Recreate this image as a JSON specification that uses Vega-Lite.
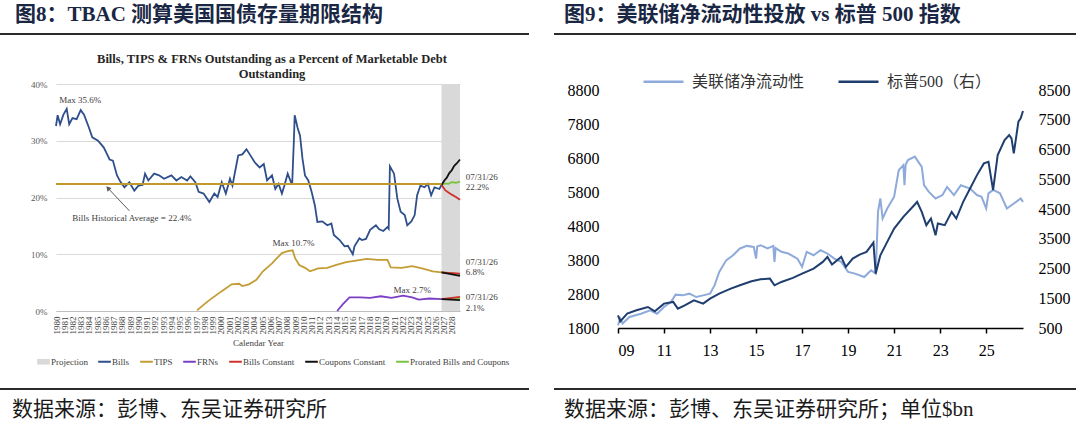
{
  "$schema": "https://vega.github.io/schema/vega-lite/v6.json",
  "background": "white",
  "padding": {"left": 0, "top": 4, "right": 0, "bottom": 0},
  "config": {
    "font": "Liberation Serif",
    "view": {"stroke": null},
    "axis": {"labelFont": "Liberation Serif", "titleFont": "Liberation Serif"},
    "axisX": {"labelOverlap": false},
    "legend": {"layout": {"top": {"anchor": "middle"}, "bottom": {"anchor": "middle"}}}
  },
  "resolve": {
    "scale": {"x": "independent", "y": "independent", "color": "independent"},
    "axis": {"x": "independent", "y": "independent"},
    "legend": {"color": "independent"}
  },
  "datasets": {
    "proj": [{"from": 2026.76, "to": 2029}],
    "avg": [{"from": 1980, "to": 2026.76, "pct": 22.4}],
    "arrow": [{"x": 1988.9, "y": 17.65, "x2": 1986.3, "y2": 21.65}],
    "notes_l": [
      {"yr": 1980.4, "pct": 37.2, "t": "Max 35.6%"},
      {"yr": 2029.7, "pct": 23.65, "t": "07/31/26"},
      {"yr": 2029.7, "pct": 21.8, "t": "22.2%"},
      {"yr": 2029.7, "pct": 8.65, "t": "07/31/26"},
      {"yr": 2029.7, "pct": 6.9, "t": "6.8%"},
      {"yr": 2029.7, "pct": 2.5, "t": "07/31/26"},
      {"yr": 2029.7, "pct": 0.6, "t": "2.1%"}
    ],
    "notes_c": [
      {"yr": 1989.2, "pct": 16.4, "t": "Bills Historical Average = 22.4%"},
      {"yr": 2008.8, "pct": 11.95, "t": "Max 10.7%"},
      {"yr": 2023.2, "pct": 3.7, "t": "Max 2.7%"}
    ],
    "debt": [
      {"yr": 1980.0, "pct": 32.6, "s": "Bills", "k": "Bills"},
      {"yr": 1980.2, "pct": 34.5, "s": "Bills", "k": "Bills"},
      {"yr": 1980.5, "pct": 32.9, "s": "Bills", "k": "Bills"},
      {"yr": 1980.9, "pct": 34.6, "s": "Bills", "k": "Bills"},
      {"yr": 1981.3, "pct": 35.6, "s": "Bills", "k": "Bills"},
      {"yr": 1981.6, "pct": 32.9, "s": "Bills", "k": "Bills"},
      {"yr": 1982.0, "pct": 34.0, "s": "Bills", "k": "Bills"},
      {"yr": 1982.5, "pct": 33.8, "s": "Bills", "k": "Bills"},
      {"yr": 1983.0, "pct": 35.4, "s": "Bills", "k": "Bills"},
      {"yr": 1983.4, "pct": 34.6, "s": "Bills", "k": "Bills"},
      {"yr": 1984.0, "pct": 32.3, "s": "Bills", "k": "Bills"},
      {"yr": 1984.4, "pct": 30.6, "s": "Bills", "k": "Bills"},
      {"yr": 1985.1, "pct": 30.0, "s": "Bills", "k": "Bills"},
      {"yr": 1985.8, "pct": 28.8, "s": "Bills", "k": "Bills"},
      {"yr": 1986.1, "pct": 27.9, "s": "Bills", "k": "Bills"},
      {"yr": 1986.5, "pct": 26.7, "s": "Bills", "k": "Bills"},
      {"yr": 1986.9, "pct": 26.5, "s": "Bills", "k": "Bills"},
      {"yr": 1987.4, "pct": 23.9, "s": "Bills", "k": "Bills"},
      {"yr": 1987.8, "pct": 22.8, "s": "Bills", "k": "Bills"},
      {"yr": 1988.3, "pct": 21.8, "s": "Bills", "k": "Bills"},
      {"yr": 1988.9, "pct": 22.7, "s": "Bills", "k": "Bills"},
      {"yr": 1989.5, "pct": 21.2, "s": "Bills", "k": "Bills"},
      {"yr": 1990.0, "pct": 22.1, "s": "Bills", "k": "Bills"},
      {"yr": 1990.5, "pct": 22.2, "s": "Bills", "k": "Bills"},
      {"yr": 1990.8, "pct": 24.2, "s": "Bills", "k": "Bills"},
      {"yr": 1991.2, "pct": 23.0, "s": "Bills", "k": "Bills"},
      {"yr": 1991.9, "pct": 24.2, "s": "Bills", "k": "Bills"},
      {"yr": 1992.5, "pct": 23.9, "s": "Bills", "k": "Bills"},
      {"yr": 1993.1, "pct": 23.3, "s": "Bills", "k": "Bills"},
      {"yr": 1994.0, "pct": 23.9, "s": "Bills", "k": "Bills"},
      {"yr": 1994.6, "pct": 23.0, "s": "Bills", "k": "Bills"},
      {"yr": 1995.2, "pct": 23.6, "s": "Bills", "k": "Bills"},
      {"yr": 1995.9, "pct": 23.0, "s": "Bills", "k": "Bills"},
      {"yr": 1996.3, "pct": 23.7, "s": "Bills", "k": "Bills"},
      {"yr": 1996.9, "pct": 22.7, "s": "Bills", "k": "Bills"},
      {"yr": 1997.3, "pct": 21.0, "s": "Bills", "k": "Bills"},
      {"yr": 1997.9, "pct": 20.7, "s": "Bills", "k": "Bills"},
      {"yr": 1998.6, "pct": 19.2, "s": "Bills", "k": "Bills"},
      {"yr": 1999.2, "pct": 20.7, "s": "Bills", "k": "Bills"},
      {"yr": 1999.6, "pct": 20.1, "s": "Bills", "k": "Bills"},
      {"yr": 2000.1, "pct": 22.7, "s": "Bills", "k": "Bills"},
      {"yr": 2000.6, "pct": 20.7, "s": "Bills", "k": "Bills"},
      {"yr": 2001.1, "pct": 23.3, "s": "Bills", "k": "Bills"},
      {"yr": 2001.4, "pct": 22.1, "s": "Bills", "k": "Bills"},
      {"yr": 2001.7, "pct": 24.4, "s": "Bills", "k": "Bills"},
      {"yr": 2002.1, "pct": 27.4, "s": "Bills", "k": "Bills"},
      {"yr": 2002.6, "pct": 27.6, "s": "Bills", "k": "Bills"},
      {"yr": 2003.1, "pct": 28.5, "s": "Bills", "k": "Bills"},
      {"yr": 2003.5, "pct": 27.6, "s": "Bills", "k": "Bills"},
      {"yr": 2004.1, "pct": 26.2, "s": "Bills", "k": "Bills"},
      {"yr": 2004.7, "pct": 25.3, "s": "Bills", "k": "Bills"},
      {"yr": 2005.2, "pct": 25.9, "s": "Bills", "k": "Bills"},
      {"yr": 2005.6, "pct": 23.0, "s": "Bills", "k": "Bills"},
      {"yr": 2006.2, "pct": 23.9, "s": "Bills", "k": "Bills"},
      {"yr": 2006.6, "pct": 21.5, "s": "Bills", "k": "Bills"},
      {"yr": 2007.0, "pct": 22.4, "s": "Bills", "k": "Bills"},
      {"yr": 2007.4, "pct": 20.7, "s": "Bills", "k": "Bills"},
      {"yr": 2007.7, "pct": 22.1, "s": "Bills", "k": "Bills"},
      {"yr": 2008.1, "pct": 24.2, "s": "Bills", "k": "Bills"},
      {"yr": 2008.5, "pct": 22.7, "s": "Bills", "k": "Bills"},
      {"yr": 2008.65, "pct": 22.5, "s": "Bills", "k": "Bills"},
      {"yr": 2008.85, "pct": 30.0, "s": "Bills", "k": "Bills"},
      {"yr": 2008.95, "pct": 34.5, "s": "Bills", "k": "Bills"},
      {"yr": 2009.3, "pct": 32.3, "s": "Bills", "k": "Bills"},
      {"yr": 2009.6, "pct": 30.9, "s": "Bills", "k": "Bills"},
      {"yr": 2009.9, "pct": 26.8, "s": "Bills", "k": "Bills"},
      {"yr": 2010.2, "pct": 23.9, "s": "Bills", "k": "Bills"},
      {"yr": 2010.6, "pct": 23.0, "s": "Bills", "k": "Bills"},
      {"yr": 2011.0, "pct": 21.0, "s": "Bills", "k": "Bills"},
      {"yr": 2011.4, "pct": 18.6, "s": "Bills", "k": "Bills"},
      {"yr": 2011.7, "pct": 15.7, "s": "Bills", "k": "Bills"},
      {"yr": 2012.3, "pct": 15.8, "s": "Bills", "k": "Bills"},
      {"yr": 2012.9, "pct": 15.1, "s": "Bills", "k": "Bills"},
      {"yr": 2013.4, "pct": 15.4, "s": "Bills", "k": "Bills"},
      {"yr": 2013.7, "pct": 13.4, "s": "Bills", "k": "Bills"},
      {"yr": 2014.4, "pct": 12.5, "s": "Bills", "k": "Bills"},
      {"yr": 2015.0, "pct": 11.4, "s": "Bills", "k": "Bills"},
      {"yr": 2015.4, "pct": 11.5, "s": "Bills", "k": "Bills"},
      {"yr": 2016.0, "pct": 10.0, "s": "Bills", "k": "Bills"},
      {"yr": 2016.2, "pct": 11.4, "s": "Bills", "k": "Bills"},
      {"yr": 2016.8, "pct": 12.8, "s": "Bills", "k": "Bills"},
      {"yr": 2017.1, "pct": 12.5, "s": "Bills", "k": "Bills"},
      {"yr": 2017.6, "pct": 12.7, "s": "Bills", "k": "Bills"},
      {"yr": 2018.1, "pct": 14.3, "s": "Bills", "k": "Bills"},
      {"yr": 2018.8, "pct": 15.1, "s": "Bills", "k": "Bills"},
      {"yr": 2019.2, "pct": 14.4, "s": "Bills", "k": "Bills"},
      {"yr": 2019.7, "pct": 14.1, "s": "Bills", "k": "Bills"},
      {"yr": 2020.2, "pct": 14.8, "s": "Bills", "k": "Bills"},
      {"yr": 2020.35, "pct": 14.5, "s": "Bills", "k": "Bills"},
      {"yr": 2020.5, "pct": 25.5, "s": "Bills", "k": "Bills"},
      {"yr": 2021.0, "pct": 24.2, "s": "Bills", "k": "Bills"},
      {"yr": 2021.4, "pct": 19.8, "s": "Bills", "k": "Bills"},
      {"yr": 2021.8, "pct": 17.5, "s": "Bills", "k": "Bills"},
      {"yr": 2022.3, "pct": 16.9, "s": "Bills", "k": "Bills"},
      {"yr": 2022.6, "pct": 15.1, "s": "Bills", "k": "Bills"},
      {"yr": 2023.1, "pct": 15.8, "s": "Bills", "k": "Bills"},
      {"yr": 2023.5, "pct": 16.9, "s": "Bills", "k": "Bills"},
      {"yr": 2023.8, "pct": 20.4, "s": "Bills", "k": "Bills"},
      {"yr": 2024.2, "pct": 22.1, "s": "Bills", "k": "Bills"},
      {"yr": 2024.7, "pct": 21.8, "s": "Bills", "k": "Bills"},
      {"yr": 2025.1, "pct": 22.4, "s": "Bills", "k": "Bills"},
      {"yr": 2025.5, "pct": 20.4, "s": "Bills", "k": "Bills"},
      {"yr": 2025.9, "pct": 21.8, "s": "Bills", "k": "Bills"},
      {"yr": 2026.5, "pct": 21.5, "s": "Bills", "k": "Bills"},
      {"yr": 2026.76, "pct": 22.2, "s": "Bills", "k": "Bills"},
      {"yr": 1997.1, "pct": 0.1, "s": "TIPS", "k": "TIPS"},
      {"yr": 1998.4, "pct": 1.7, "s": "TIPS", "k": "TIPS"},
      {"yr": 2000.1, "pct": 3.5, "s": "TIPS", "k": "TIPS"},
      {"yr": 2001.3, "pct": 4.7, "s": "TIPS", "k": "TIPS"},
      {"yr": 2002.2, "pct": 4.8, "s": "TIPS", "k": "TIPS"},
      {"yr": 2002.6, "pct": 4.4, "s": "TIPS", "k": "TIPS"},
      {"yr": 2003.4, "pct": 4.7, "s": "TIPS", "k": "TIPS"},
      {"yr": 2004.3, "pct": 5.5, "s": "TIPS", "k": "TIPS"},
      {"yr": 2005.1, "pct": 7.0, "s": "TIPS", "k": "TIPS"},
      {"yr": 2006.2, "pct": 8.4, "s": "TIPS", "k": "TIPS"},
      {"yr": 2006.8, "pct": 9.3, "s": "TIPS", "k": "TIPS"},
      {"yr": 2007.4, "pct": 10.2, "s": "TIPS", "k": "TIPS"},
      {"yr": 2008.0, "pct": 10.5, "s": "TIPS", "k": "TIPS"},
      {"yr": 2008.7, "pct": 10.7, "s": "TIPS", "k": "TIPS"},
      {"yr": 2009.0, "pct": 9.3, "s": "TIPS", "k": "TIPS"},
      {"yr": 2009.5, "pct": 8.1, "s": "TIPS", "k": "TIPS"},
      {"yr": 2010.2, "pct": 7.6, "s": "TIPS", "k": "TIPS"},
      {"yr": 2010.8, "pct": 7.0, "s": "TIPS", "k": "TIPS"},
      {"yr": 2011.8, "pct": 7.5, "s": "TIPS", "k": "TIPS"},
      {"yr": 2012.9, "pct": 7.6, "s": "TIPS", "k": "TIPS"},
      {"yr": 2013.9, "pct": 8.1, "s": "TIPS", "k": "TIPS"},
      {"yr": 2015.2, "pct": 8.6, "s": "TIPS", "k": "TIPS"},
      {"yr": 2016.0, "pct": 8.8, "s": "TIPS", "k": "TIPS"},
      {"yr": 2017.7, "pct": 9.2, "s": "TIPS", "k": "TIPS"},
      {"yr": 2019.0, "pct": 9.0, "s": "TIPS", "k": "TIPS"},
      {"yr": 2020.2, "pct": 9.0, "s": "TIPS", "k": "TIPS"},
      {"yr": 2020.6, "pct": 7.7, "s": "TIPS", "k": "TIPS"},
      {"yr": 2021.9, "pct": 7.6, "s": "TIPS", "k": "TIPS"},
      {"yr": 2023.2, "pct": 7.9, "s": "TIPS", "k": "TIPS"},
      {"yr": 2024.4, "pct": 7.5, "s": "TIPS", "k": "TIPS"},
      {"yr": 2025.7, "pct": 7.0, "s": "TIPS", "k": "TIPS"},
      {"yr": 2026.76, "pct": 6.8, "s": "TIPS", "k": "TIPS"},
      {"yr": 2014.1, "pct": 0.0, "s": "FRNs", "k": "FRNs"},
      {"yr": 2014.8, "pct": 1.2, "s": "FRNs", "k": "FRNs"},
      {"yr": 2015.6, "pct": 2.4, "s": "FRNs", "k": "FRNs"},
      {"yr": 2016.9, "pct": 2.4, "s": "FRNs", "k": "FRNs"},
      {"yr": 2018.1, "pct": 2.3, "s": "FRNs", "k": "FRNs"},
      {"yr": 2019.4, "pct": 2.6, "s": "FRNs", "k": "FRNs"},
      {"yr": 2020.7, "pct": 2.3, "s": "FRNs", "k": "FRNs"},
      {"yr": 2022.1, "pct": 2.7, "s": "FRNs", "k": "FRNs"},
      {"yr": 2023.2, "pct": 2.4, "s": "FRNs", "k": "FRNs"},
      {"yr": 2024.0, "pct": 2.0, "s": "FRNs", "k": "FRNs"},
      {"yr": 2025.3, "pct": 2.2, "s": "FRNs", "k": "FRNs"},
      {"yr": 2026.76, "pct": 2.1, "s": "FRNs", "k": "FRNs"},
      {"yr": 2026.76, "pct": 22.2, "s": "Prorated Bills and Coupons", "k": "Bills"},
      {"yr": 2027.2, "pct": 22.5, "s": "Prorated Bills and Coupons", "k": "Bills"},
      {"yr": 2027.6, "pct": 22.4, "s": "Prorated Bills and Coupons", "k": "Bills"},
      {"yr": 2028.0, "pct": 22.7, "s": "Prorated Bills and Coupons", "k": "Bills"},
      {"yr": 2028.5, "pct": 22.6, "s": "Prorated Bills and Coupons", "k": "Bills"},
      {"yr": 2029.0, "pct": 22.8, "s": "Prorated Bills and Coupons", "k": "Bills"},
      {"yr": 2026.76, "pct": 22.2, "s": "Bills Constant", "k": "Bills"},
      {"yr": 2027.2, "pct": 21.3, "s": "Bills Constant", "k": "Bills"},
      {"yr": 2027.6, "pct": 20.9, "s": "Bills Constant", "k": "Bills"},
      {"yr": 2028.0, "pct": 20.5, "s": "Bills Constant", "k": "Bills"},
      {"yr": 2028.5, "pct": 20.1, "s": "Bills Constant", "k": "Bills"},
      {"yr": 2029.0, "pct": 19.6, "s": "Bills Constant", "k": "Bills"},
      {"yr": 2026.76, "pct": 22.2, "s": "Coupons Constant", "k": "Bills"},
      {"yr": 2027.1, "pct": 23.0, "s": "Coupons Constant", "k": "Bills"},
      {"yr": 2027.4, "pct": 23.5, "s": "Coupons Constant", "k": "Bills"},
      {"yr": 2027.7, "pct": 24.3, "s": "Coupons Constant", "k": "Bills"},
      {"yr": 2028.0, "pct": 24.8, "s": "Coupons Constant", "k": "Bills"},
      {"yr": 2028.3, "pct": 25.6, "s": "Coupons Constant", "k": "Bills"},
      {"yr": 2028.6, "pct": 26.0, "s": "Coupons Constant", "k": "Bills"},
      {"yr": 2029.0, "pct": 26.7, "s": "Coupons Constant", "k": "Bills"},
      {"yr": 2026.76, "pct": 6.8, "s": "Prorated Bills and Coupons", "k": "TIPS"},
      {"yr": 2029.0, "pct": 6.5, "s": "Prorated Bills and Coupons", "k": "TIPS"},
      {"yr": 2026.76, "pct": 6.8, "s": "Bills Constant", "k": "TIPS"},
      {"yr": 2029.0, "pct": 6.6, "s": "Bills Constant", "k": "TIPS"},
      {"yr": 2026.76, "pct": 6.8, "s": "Coupons Constant", "k": "TIPS"},
      {"yr": 2029.0, "pct": 6.2, "s": "Coupons Constant", "k": "TIPS"},
      {"yr": 2026.76, "pct": 2.1, "s": "Prorated Bills and Coupons", "k": "FRNs"},
      {"yr": 2029.0, "pct": 2.2, "s": "Prorated Bills and Coupons", "k": "FRNs"},
      {"yr": 2026.76, "pct": 2.1, "s": "Bills Constant", "k": "FRNs"},
      {"yr": 2029.0, "pct": 2.5, "s": "Bills Constant", "k": "FRNs"},
      {"yr": 2026.76, "pct": 2.1, "s": "Coupons Constant", "k": "FRNs"},
      {"yr": 2029.0, "pct": 1.9, "s": "Coupons Constant", "k": "FRNs"}
    ],
    "liq": [
      {"t": 2009.0, "v": 1880}, {"t": 2009.1, "v": 2075}, {"t": 2009.2, "v": 1930},
      {"t": 2009.5, "v": 2125}, {"t": 2010.0, "v": 2220}, {"t": 2010.4, "v": 2320},
      {"t": 2010.7, "v": 2220}, {"t": 2011.0, "v": 2420}, {"t": 2011.3, "v": 2565},
      {"t": 2011.5, "v": 2780}, {"t": 2011.8, "v": 2760}, {"t": 2012.1, "v": 2810},
      {"t": 2012.4, "v": 2710}, {"t": 2012.7, "v": 2760}, {"t": 2013.0, "v": 2810},
      {"t": 2013.2, "v": 3060}, {"t": 2013.4, "v": 3450}, {"t": 2013.7, "v": 3790},
      {"t": 2014.0, "v": 3940}, {"t": 2014.3, "v": 4140}, {"t": 2014.6, "v": 4215},
      {"t": 2014.9, "v": 4185}, {"t": 2015.0, "v": 3840}, {"t": 2015.05, "v": 4200},
      {"t": 2015.2, "v": 4235}, {"t": 2015.5, "v": 4140}, {"t": 2015.75, "v": 4215},
      {"t": 2015.8, "v": 3745}, {"t": 2015.85, "v": 4150}, {"t": 2016.1, "v": 4040},
      {"t": 2016.4, "v": 3990}, {"t": 2016.8, "v": 3840}, {"t": 2017.0, "v": 3600},
      {"t": 2017.2, "v": 4040}, {"t": 2017.5, "v": 3940}, {"t": 2017.8, "v": 4090},
      {"t": 2018.1, "v": 3990}, {"t": 2018.4, "v": 3840}, {"t": 2018.7, "v": 3745},
      {"t": 2019.0, "v": 3450}, {"t": 2019.3, "v": 3400}, {"t": 2019.7, "v": 3300},
      {"t": 2020.0, "v": 3500}, {"t": 2020.2, "v": 3400}, {"t": 2020.3, "v": 5220},
      {"t": 2020.4, "v": 5610}, {"t": 2020.5, "v": 5020}, {"t": 2020.7, "v": 5315},
      {"t": 2021.0, "v": 5660}, {"t": 2021.2, "v": 6440}, {"t": 2021.4, "v": 6590},
      {"t": 2021.45, "v": 6000}, {"t": 2021.5, "v": 6600}, {"t": 2021.6, "v": 6740},
      {"t": 2021.9, "v": 6840}, {"t": 2022.2, "v": 6540}, {"t": 2022.3, "v": 6000},
      {"t": 2022.5, "v": 5810}, {"t": 2022.8, "v": 5610}, {"t": 2023.1, "v": 5710},
      {"t": 2023.3, "v": 5950}, {"t": 2023.6, "v": 5710}, {"t": 2023.9, "v": 6000},
      {"t": 2024.3, "v": 5900}, {"t": 2024.6, "v": 5710}, {"t": 2024.8, "v": 5660},
      {"t": 2025.0, "v": 5315}, {"t": 2025.1, "v": 5760}, {"t": 2025.3, "v": 5860},
      {"t": 2025.6, "v": 5760}, {"t": 2025.9, "v": 5315}, {"t": 2026.2, "v": 5460},
      {"t": 2026.5, "v": 5610}, {"t": 2026.6, "v": 5510}
    ],
    "spx": [
      {"t": 2009.0, "v": 926}, {"t": 2009.1, "v": 724}, {"t": 2009.4, "v": 982},
      {"t": 2009.8, "v": 1095}, {"t": 2010.3, "v": 1207}, {"t": 2010.6, "v": 1061},
      {"t": 2011.0, "v": 1319}, {"t": 2011.4, "v": 1375}, {"t": 2011.6, "v": 1151},
      {"t": 2011.9, "v": 1263}, {"t": 2012.3, "v": 1431}, {"t": 2012.7, "v": 1319},
      {"t": 2013.0, "v": 1487}, {"t": 2013.4, "v": 1656}, {"t": 2013.9, "v": 1824},
      {"t": 2014.3, "v": 1936}, {"t": 2014.8, "v": 2071}, {"t": 2015.2, "v": 2138},
      {"t": 2015.6, "v": 2160}, {"t": 2015.8, "v": 1936}, {"t": 2016.1, "v": 2048},
      {"t": 2016.6, "v": 2183}, {"t": 2017.0, "v": 2329}, {"t": 2017.5, "v": 2497},
      {"t": 2017.9, "v": 2722}, {"t": 2018.1, "v": 2890}, {"t": 2018.3, "v": 2632},
      {"t": 2018.7, "v": 2890}, {"t": 2018.9, "v": 2553}, {"t": 2019.2, "v": 2834},
      {"t": 2019.5, "v": 2968}, {"t": 2019.8, "v": 3058}, {"t": 2020.1, "v": 3372},
      {"t": 2020.2, "v": 2329}, {"t": 2020.4, "v": 2946}, {"t": 2020.7, "v": 3395},
      {"t": 2021.0, "v": 3844}, {"t": 2021.4, "v": 4236}, {"t": 2021.9, "v": 4651},
      {"t": 2022.0, "v": 4741}, {"t": 2022.2, "v": 4405}, {"t": 2022.4, "v": 3956},
      {"t": 2022.6, "v": 4180}, {"t": 2022.8, "v": 3619}, {"t": 2022.9, "v": 4012},
      {"t": 2023.2, "v": 3956}, {"t": 2023.5, "v": 4405}, {"t": 2023.7, "v": 4180},
      {"t": 2024.0, "v": 4741}, {"t": 2024.3, "v": 5190}, {"t": 2024.6, "v": 5639},
      {"t": 2024.9, "v": 6032}, {"t": 2025.1, "v": 6088}, {"t": 2025.3, "v": 5134},
      {"t": 2025.5, "v": 6312}, {"t": 2025.8, "v": 6817}, {"t": 2026.0, "v": 6985},
      {"t": 2026.1, "v": 6873}, {"t": 2026.2, "v": 6368}, {"t": 2026.4, "v": 7434},
      {"t": 2026.5, "v": 7546}, {"t": 2026.6, "v": 7793}
    ]
  },
  "spacing": 6,
  "hconcat": [
    {
      "spacing": 17,
      "resolve": {"scale": {"x": "independent", "y": "independent", "color": "independent"}, "legend": {"color": "independent"}},
      "vconcat": [
        {
          "data": {"values": [{}]},
          "width": 529,
          "height": 2,
          "mark": {"type": "rect", "color": "#2b2b2b"},
          "title": {
            "text": "图8：TBAC 测算美国国债存量期限结构",
            "anchor": "start",
            "dx": 15,
            "font": "Liberation Serif, Noto Sans CJK SC",
            "fontSize": 21,
            "fontWeight": "bold",
            "color": "#1a2744",
            "offset": 8
          }
        },
        {
          "spacing": 21,
          "resolve": {"scale": {"x": "independent", "y": "independent", "color": "independent"}, "legend": {"color": "independent"}},
          "vconcat": [
            {
              "width": 548,
              "height": 227,
              "title": {
                "text": ["Bills, TIPS & FRNs Outstanding as a Percent of Marketable Debt", "Outstanding"],
                "font": "Liberation Serif",
                "fontSize": 12.5,
                "fontWeight": "bold",
                "color": "#262626",
                "lineHeight": 15,
                "offset": 0,
                "dx": -2,
                "anchor": "middle"
              },
              "layer": [
                {
                  "data": {"name": "proj"},
                  "mark": {"type": "rect", "color": "#d9d9d9"},
                  "encoding": {
                    "x": {
                      "field": "from",
                      "type": "quantitative",
                      "scale": {"domain": [1980, 2029], "nice": false, "zero": false, "range": [56, 460]},
                      "axis": {
                        "values": [1980, 1981, 1982, 1983, 1984, 1985, 1986, 1987, 1988, 1989, 1990, 1991, 1992, 1993, 1994, 1995, 1996, 1997, 1998, 1999, 2000, 2001, 2002, 2003, 2004, 2005, 2006, 2007, 2008, 2009, 2010, 2011, 2012, 2013, 2014, 2015, 2016, 2017, 2018, 2019, 2020, 2021, 2022, 2023, 2024, 2025, 2026, 2027, 2028],
                        "tickCount": 49,
                        "format": "d",
                        "labelAngle": -90,
                        "labelOverlap": false,
                        "labelSeparation": -8,
                        "labelFontSize": 9,
                        "labelColor": "#404040",
                        "labelPadding": 5,
                        "ticks": false,
                        "grid": false,
                        "domainColor": "#bfbfbf",
                        "title": "Calendar Year",
                        "titleFontSize": 9,
                        "titleFontWeight": "normal",
                        "titleColor": "#404040",
                        "titlePadding": 4
                      }
                    },
                    "x2": {"field": "to"}
                  }
                },
                {
                  "data": {"name": "debt"},
                  "mark": {"type": "line", "strokeWidth": 1.8},
                  "encoding": {
                    "x": {"field": "yr", "type": "quantitative"},
                    "y": {
                      "field": "pct",
                      "type": "quantitative",
                      "scale": {"domain": [0, 40], "nice": false},
                      "axis": {
                        "values": [0, 5, 10, 15, 20, 25, 30, 35, 40],
                        "labelExpr": "datum.value + '%'",
                        "offset": -56,
                        "grid": true,
                        "gridColor": "#d9d9d9",
                        "domain": false,
                        "ticks": false,
                        "labelFontSize": 9,
                        "labelColor": "#595959",
                        "labelPadding": 9,
                        "title": null
                      }
                    },
                    "color": {
                      "field": "s",
                      "type": "nominal",
                      "scale": {
                        "domain": ["Projection", "Bills", "TIPS", "FRNs", "Bills Constant", "Coupons Constant", "Prorated Bills and Coupons"],
                        "range": ["#d9d9d9", "#2f4f8c", "#c49c34", "#7b3fc4", "#d0312d", "#111111", "#7cc242"]
                      },
                      "legend": {
                        "orient": "bottom",
                        "direction": "horizontal",
                        "title": null,
                        "symbolType": "stroke",
                        "symbolSize": 160,
                        "symbolStrokeWidth": 2,
                        "labelFont": "Liberation Serif",
                        "labelFontSize": 9,
                        "labelColor": "#404040",
                        "labelOffset": 3,
                        "columnPadding": 6,
                        "offset": 10,
                        "padding": 0,
                        "encode": {
                          "symbols": {
                            "update": {
                              "shape": {"signal": "datum.value === 'Projection' ? 'M-1,-0.45H1V0.45H-1Z' : 'stroke'"},
                              "fill": {"signal": "datum.value === 'Projection' ? '#d9d9d9' : 'transparent'"},
                              "strokeWidth": {"signal": "datum.value === 'Projection' ? 0 : 2"}
                            }
                          }
                        }
                      }
                    },
                    "detail": {"field": "k"}
                  }
                },
                {
                  "data": {"name": "avg"},
                  "mark": {"type": "rule", "color": "#c09a2e", "strokeWidth": 2},
                  "encoding": {
                    "x": {"field": "from", "type": "quantitative"},
                    "x2": {"field": "to"},
                    "y": {"field": "pct", "type": "quantitative"}
                  }
                },
                {
                  "data": {"name": "notes_l"},
                  "mark": {"type": "text", "font": "Liberation Serif", "fontSize": 9, "color": "#404040", "align": "left"},
                  "encoding": {
                    "x": {"field": "yr", "type": "quantitative"},
                    "y": {"field": "pct", "type": "quantitative"},
                    "text": {"field": "t"}
                  }
                },
                {
                  "data": {"name": "notes_c"},
                  "mark": {"type": "text", "font": "Liberation Serif", "fontSize": 9, "color": "#404040", "align": "center"},
                  "encoding": {
                    "x": {"field": "yr", "type": "quantitative"},
                    "y": {"field": "pct", "type": "quantitative"},
                    "text": {"field": "t"}
                  }
                },
                {
                  "data": {"name": "arrow"},
                  "mark": {"type": "rule", "color": "#595959", "strokeWidth": 1},
                  "encoding": {
                    "x": {"field": "x", "type": "quantitative"},
                    "y": {"field": "y", "type": "quantitative"},
                    "x2": {"field": "x2"},
                    "y2": {"field": "y2"}
                  }
                },
                {
                  "data": {"name": "arrow"},
                  "mark": {"type": "point", "shape": "triangle-up", "filled": true, "size": 30, "color": "#595959", "angle": -42, "opacity": 1},
                  "encoding": {
                    "x": {"field": "x2", "type": "quantitative"},
                    "y": {"field": "y2", "type": "quantitative"}
                  }
                }
              ]
            },
            {
              "data": {"values": [{}]},
              "width": 529,
              "height": 2,
              "mark": {"type": "rect", "color": "#2b2b2b"},
              "title": {
                "text": "数据来源：彭博、东吴证券研究所",
                "orient": "bottom",
                "anchor": "start",
                "dx": 12,
                "font": "Liberation Serif, Noto Sans CJK SC",
                "fontSize": 21,
                "fontWeight": "normal",
                "color": "#1a1a1a",
                "offset": 9
              }
            }
          ]
        }
      ]
    },
    {
      "spacing": 25,
      "resolve": {"scale": {"x": "independent", "y": "independent", "color": "independent"}, "legend": {"color": "independent"}},
      "vconcat": [
        {
          "data": {"values": [{}]},
          "width": 522,
          "height": 2,
          "mark": {"type": "rect", "color": "#2b2b2b"},
          "title": {
            "text": "图9：美联储净流动性投放 vs 标普 500 指数",
            "anchor": "start",
            "dx": 10,
            "font": "Liberation Serif, Noto Sans CJK SC",
            "fontSize": 21,
            "fontWeight": "bold",
            "color": "#1a2744",
            "offset": 8
          }
        },
        {
          "spacing": 30,
          "resolve": {"scale": {"x": "independent", "y": "independent", "color": "independent"}, "legend": {"color": "independent"}},
          "vconcat": [
            {
              "width": 526,
              "height": 238,
              "resolve": {"scale": {"y": "independent"}},
              "layer": [
                {
                  "data": {"name": "liq"},
                  "mark": {"type": "line", "strokeWidth": 2},
                  "encoding": {
                    "x": {
                      "field": "t",
                      "type": "quantitative",
                      "scale": {"domain": [2009, 2026.6], "nice": false, "zero": false, "range": [64, 469]},
                      "axis": {
                        "values": [2009, 2011, 2013, 2015, 2017, 2019, 2021, 2023, 2025],
                        "labelExpr": "format(datum.value - 2000, '02d')",
                        "domainColor": "#000000",
                        "domainWidth": 1.5,
                        "tickColor": "#000000",
                        "tickWidth": 1.5,
                        "tickSize": 5,
                        "grid": false,
                        "labelFontSize": 16,
                        "labelColor": "#000000",
                        "labelPadding": 9,
                        "title": null
                      }
                    },
                    "y": {
                      "field": "v",
                      "type": "quantitative",
                      "scale": {"domain": [1800, 8800], "nice": false, "zero": false},
                      "axis": {
                        "orient": "left",
                        "offset": -64,
                        "values": [1800, 2800, 3800, 4800, 5800, 6800, 7800, 8800],
                        "format": "d",
                        "domain": false,
                        "ticks": false,
                        "grid": false,
                        "labelFontSize": 16,
                        "labelColor": "#000000",
                        "labelPadding": 19,
                        "title": null
                      }
                    },
                    "color": {
                      "datum": "美联储净流动性",
                      "type": "nominal",
                      "scale": {"domain": ["美联储净流动性", "标普500（右）"], "range": ["#8eaadb", "#1f3e6f"]},
                      "legend": {
                        "orient": "top",
                        "direction": "horizontal",
                        "title": null,
                        "symbolType": "stroke",
                        "symbolSize": 1600,
                        "symbolStrokeWidth": 2.5,
                        "labelFont": "Liberation Serif, Noto Sans CJK SC",
                        "labelFontSize": 16,
                        "labelColor": "#333333",
                        "labelOffset": 7,
                        "columnPadding": 28,
                        "offset": 0.5,
                        "padding": 0
                      }
                    }
                  }
                },
                {
                  "data": {"name": "spx"},
                  "mark": {"type": "line", "strokeWidth": 2},
                  "encoding": {
                    "x": {"field": "t", "type": "quantitative"},
                    "y": {
                      "field": "v",
                      "type": "quantitative",
                      "scale": {"domain": [500, 8500], "nice": false, "zero": false},
                      "axis": {
                        "orient": "right",
                        "offset": -57,
                        "values": [500, 1500, 2500, 3500, 4500, 5500, 6500, 7500, 8500],
                        "format": "d",
                        "domain": false,
                        "ticks": false,
                        "grid": false,
                        "labelFontSize": 16,
                        "labelColor": "#000000",
                        "labelPadding": 15,
                        "title": null
                      }
                    },
                    "color": {"datum": "标普500（右）", "type": "nominal"}
                  }
                }
              ]
            },
            {
              "data": {"values": [{}]},
              "width": 522,
              "height": 2,
              "mark": {"type": "rect", "color": "#2b2b2b"},
              "title": {
                "text": "数据来源：彭博、东吴证券研究所；单位$bn",
                "orient": "bottom",
                "anchor": "start",
                "dx": 10,
                "font": "Liberation Serif, Noto Sans CJK SC",
                "fontSize": 21,
                "fontWeight": "normal",
                "color": "#1a1a1a",
                "offset": 9
              }
            }
          ]
        }
      ]
    }
  ]
}
